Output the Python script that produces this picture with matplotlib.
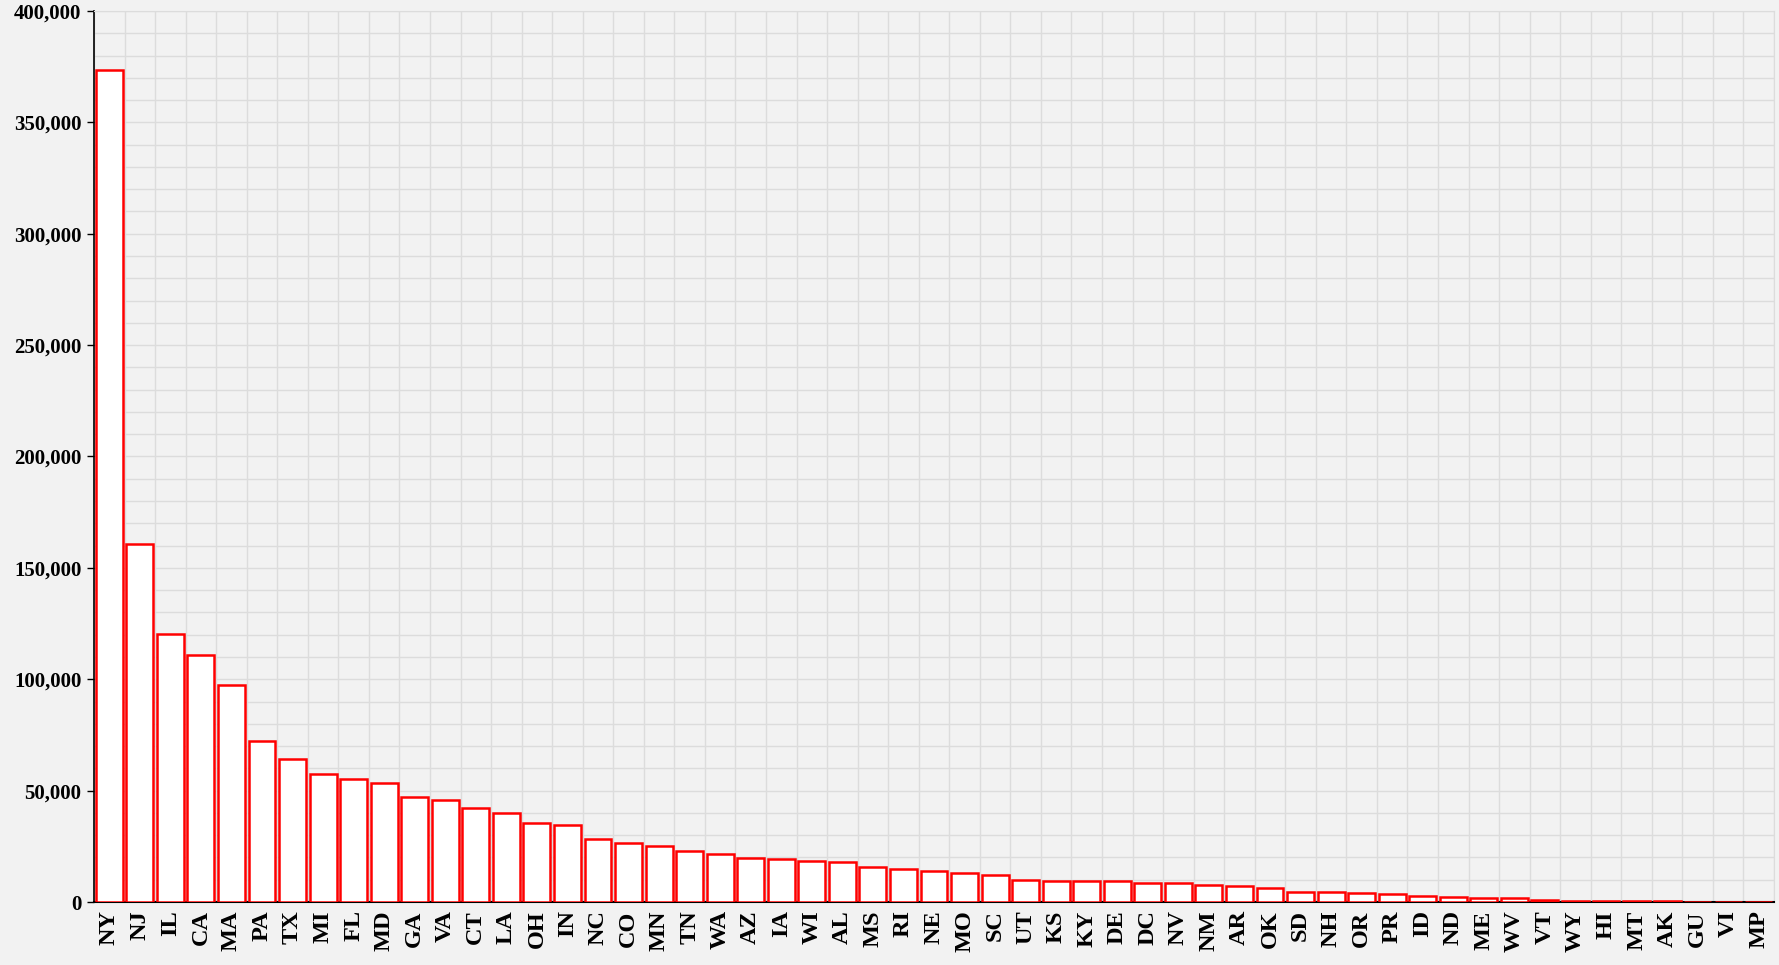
import numpy as np
import matplotlib
matplotlib.use('Agg')
import matplotlib.pyplot as plt
from matplotlib.ticker import MultipleLocator, FuncFormatter

BG     = '#f2f2f2'
GRID_C = '#dcdcdc'
EDGE_C = '#ff0000'

# ── data ──────────────────────────────────────────────────────────────────────
states = ['NY', 'NJ', 'IL', 'CA', 'MA', 'PA', 'TX', 'MI', 'FL', 'MD', 'GA', 'VA',
          'CT', 'LA', 'OH', 'IN', 'NC', 'CO', 'MN', 'TN', 'WA', 'AZ', 'IA', 'WI',
          'AL', 'MS', 'RI', 'NE', 'MO', 'SC', 'UT', 'KS', 'KY', 'DE', 'DC', 'NV',
          'NM', 'AR', 'OK', 'SD', 'NH', 'OR', 'PR', 'ID', 'ND', 'ME', 'WV', 'VT',
          'WY', 'HI', 'MT', 'AK', 'GU', 'VI', 'MP']
values = [373300, 160700, 120400, 110700, 97200, 72100, 64300, 57600, 55000, 53600,
          47100, 45600, 42300, 39900, 35300, 34400, 28500, 26400, 25000, 23100,
          21500, 19800, 19300, 18300, 18100, 15600, 14800, 14100, 13000, 11900,
          9900, 9600, 9600, 9600, 8700, 8600, 7600, 7000, 6200, 4700,
          4400, 4100, 3700, 2600, 2300, 1900, 1700, 900, 600, 450,
          320, 300, 220, 200, 150]

# ── figure ────────────────────────────────────────────────────────────────────
fig = plt.figure(figsize=(17.79, 9.65), dpi=100, facecolor=BG)
ax = fig.add_axes([94 / 1779, 1 - 902 / 965, (1774 - 94) / 1779, (902 - 11) / 965])
ax.set_facecolor(BG)

x = np.arange(len(states))
ax.bar(x, values, width=0.88, color='white', edgecolor=EDGE_C, linewidth=1.8, zorder=3)

ax.set_xlim(-0.5, len(states) - 0.5)
ax.set_ylim(0, 400000)

# grid: horizontal every 10k, vertical between categories only
ax.yaxis.set_major_locator(MultipleLocator(50000))
ax.yaxis.set_minor_locator(MultipleLocator(10000))
ax.xaxis.set_minor_locator(MultipleLocator(1, offset=0.5))
ax.grid(True, axis='y', which='both', color=GRID_C, linewidth=1.0, zorder=0)
ax.grid(True, axis='x', which='minor', color=GRID_C, linewidth=1.0, zorder=0)
ax.grid(False, axis='x', which='major')
ax.set_axisbelow(True)

ax.yaxis.set_major_formatter(FuncFormatter(lambda v, p: f'{int(v):,}'))
ax.set_xticks(x)
ax.set_xticklabels(states, rotation=90)

serif = ['Liberation Serif', 'DejaVu Serif']
for lbl in ax.get_yticklabels():
    lbl.set_fontfamily(serif)
    lbl.set_fontweight('bold')
    lbl.set_fontsize(15)
for lbl in ax.get_xticklabels():
    lbl.set_fontfamily(serif)
    lbl.set_fontweight('bold')
    lbl.set_fontsize(17.5)

ax.tick_params(axis='y', which='major', length=5, width=1, color='black', pad=4)
ax.tick_params(axis='y', which='minor', length=0)
ax.tick_params(axis='x', which='both', length=0, pad=6)

for s in ('top', 'right'):
    ax.spines[s].set_color(GRID_C)
ax.spines['left'].set_color('black')
ax.spines['bottom'].set_color('black')
ax.spines['left'].set_linewidth(1.2)
ax.spines['bottom'].set_linewidth(1.5)

fig.savefig('out.png', dpi=100, facecolor=BG)
plt.close(fig)
